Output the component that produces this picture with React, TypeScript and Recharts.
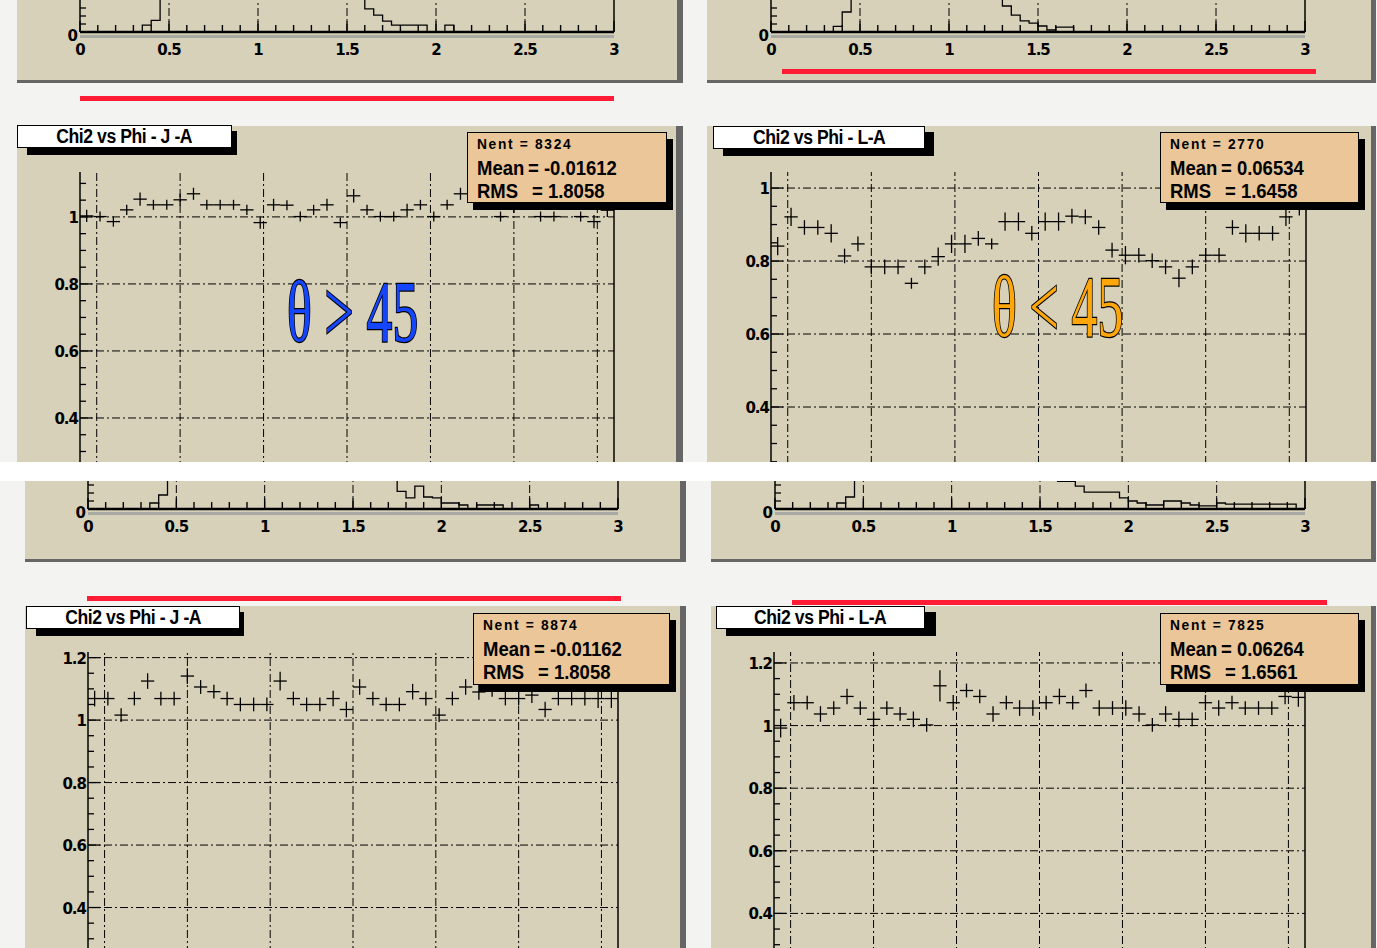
import React from "react";
import { ComposedChart, Line, Scatter, ErrorBar, XAxis, YAxis, ReferenceLine } from "recharts";

// ---------- DATA ----------
const phiCenters = [-3.12, -2.96, -2.8, -2.64, -2.48, -2.32, -2.16, -2.0, -1.84, -1.68, -1.52, -1.36, -1.2, -1.04, -0.88, -0.72, -0.56, -0.4, -0.24, -0.08, 0.08, 0.24, 0.4, 0.56, 0.72, 0.88, 1.04, 1.2, 1.36, 1.52, 1.68, 1.84, 2.0, 2.16, 2.32, 2.48, 2.64, 2.8, 2.96, 3.12];
const phiHalfWidth = 0.08;
const phiGrid = [-3, -2, -1, 0, 1, 2, 3];

const profMajorY = [0.4, 0.6, 0.8, 1.0, 1.2];
const profMajorLabels = ["0.4", "0.6", "0.8", "1", "1.2"];
const profMinorY = [0.25, 0.3, 0.35, 0.4, 0.45, 0.5, 0.55, 0.6, 0.65, 0.7, 0.75, 0.8, 0.85, 0.9, 0.95, 1.0, 1.05, 1.1, 1.15, 1.2];

const profTLValues = [1.003, 1.001, 0.986, 1.021, 1.053, 1.036, 1.036, 1.051, 1.069, 1.036, 1.036, 1.036, 1.021, 0.983, 1.036, 1.035, 1.001, 1.021, 1.036, 0.983, 1.063, 1.021, 1.001, 1.001, 1.021, 1.036, 1.001, 1.036, 1.069, 1.05, 1.04, 1.001, 1.03, 1.04, 1.001, 1.001, 1.04, 1.001, 0.986, 1.02];
const profTLErrors = [0.018, 0.015, 0.015, 0.015, 0.02, 0.015, 0.015, 0.018, 0.018, 0.015, 0.015, 0.015, 0.015, 0.018, 0.018, 0.015, 0.015, 0.015, 0.018, 0.015, 0.02, 0.015, 0.015, 0.015, 0.018, 0.015, 0.015, 0.015, 0.018, 0.018, 0.018, 0.015, 0.018, 0.018, 0.015, 0.015, 0.018, 0.015, 0.02, 0.02];

const profTRValues = [0.841, 0.921, 0.892, 0.892, 0.876, 0.814, 0.847, 0.784, 0.784, 0.784, 0.739, 0.784, 0.812, 0.847, 0.847, 0.862, 0.847, 0.908, 0.908, 0.876, 0.908, 0.908, 0.923, 0.921, 0.892, 0.83, 0.816, 0.816, 0.801, 0.784, 0.753, 0.784, 0.816, 0.816, 0.892, 0.876, 0.876, 0.876, 0.921, 0.95];
const profTRErrors = [0.025, 0.025, 0.02, 0.02, 0.025, 0.02, 0.02, 0.02, 0.02, 0.02, 0.015, 0.02, 0.025, 0.025, 0.025, 0.02, 0.015, 0.025, 0.025, 0.02, 0.025, 0.025, 0.02, 0.02, 0.02, 0.02, 0.025, 0.02, 0.02, 0.02, 0.025, 0.02, 0.02, 0.02, 0.02, 0.025, 0.02, 0.02, 0.025, 0.025];

const profBLValues = [1.069, 1.069, 1.016, 1.069, 1.125, 1.069, 1.069, 1.141, 1.106, 1.091, 1.069, 1.05, 1.05, 1.05, 1.125, 1.069, 1.05, 1.05, 1.069, 1.034, 1.106, 1.069, 1.05, 1.05, 1.091, 1.069, 1.016, 1.069, 1.106, 1.09, 1.1, 1.069, 1.069, 1.08, 1.034, 1.069, 1.069, 1.069, 1.069, 1.069];
const profBLErrors = [0.025, 0.022, 0.022, 0.022, 0.025, 0.022, 0.022, 0.025, 0.022, 0.022, 0.022, 0.022, 0.022, 0.022, 0.03, 0.022, 0.022, 0.022, 0.025, 0.025, 0.025, 0.022, 0.022, 0.022, 0.025, 0.022, 0.022, 0.022, 0.025, 0.025, 0.025, 0.022, 0.022, 0.025, 0.025, 0.022, 0.022, 0.022, 0.03, 0.03];

const profBRValues = [0.992, 1.073, 1.073, 1.037, 1.056, 1.093, 1.056, 1.02, 1.056, 1.037, 1.02, 1.002, 1.127, 1.073, 1.112, 1.093, 1.037, 1.073, 1.056, 1.056, 1.073, 1.093, 1.073, 1.112, 1.056, 1.056, 1.056, 1.037, 1.002, 1.037, 1.02, 1.02, 1.073, 1.056, 1.073, 1.056, 1.056, 1.056, 1.093, 1.09];
const profBRErrors = [0.03, 0.025, 0.022, 0.025, 0.022, 0.025, 0.022, 0.025, 0.022, 0.022, 0.025, 0.022, 0.05, 0.025, 0.022, 0.022, 0.025, 0.022, 0.025, 0.025, 0.022, 0.025, 0.022, 0.022, 0.025, 0.022, 0.025, 0.025, 0.022, 0.025, 0.025, 0.022, 0.025, 0.025, 0.022, 0.022, 0.022, 0.022, 0.025, 0.03];

const histEdges = [0, 0.05, 0.1, 0.15, 0.2, 0.25, 0.3, 0.35, 0.4, 0.45, 0.5, 0.55, 0.6, 0.65, 0.7, 0.75, 0.8, 0.85, 0.9, 0.95, 1.0, 1.05, 1.1, 1.15, 1.2, 1.25, 1.3, 1.35, 1.4, 1.45, 1.5, 1.55, 1.6, 1.65, 1.7, 1.75, 1.8, 1.85, 1.9, 1.95, 2.0, 2.05, 2.1, 2.15, 2.2, 2.25, 2.3, 2.35, 2.4, 2.45, 2.5, 2.55, 2.6, 2.65, 2.7, 2.75, 2.8, 2.85, 2.9, 2.95];
const histEnd = 3;
const histTL = [0, 0, 0, 0, 0, 0, 0, 17, 29, 120, 260, 410, 560, 690, 780, 840, 870, 860, 820, 760, 690, 610, 530, 450, 380, 310, 250, 200, 160, 130, 105, 90, 58, 42, 27, 17, 17, 17, 17, 0, 0, 17, 0, 0, 0, 0, 0, 0, 0, 0, 0, 0, 0, 0, 0, 0, 0, 0, 0, 0];
const histTR = [0, 0, 0, 0, 0, 0, 0, 14, 50, 140, 300, 470, 620, 740, 820, 860, 850, 800, 720, 620, 510, 400, 300, 220, 150, 100, 65, 42, 28, 22, 15, 5, 12, 12, 0, 0, 0, 0, 0, 0, 0, 0, 0, 0, 0, 0, 0, 0, 0, 0, 0, 0, 0, 0, 0, 0, 0, 0, 0, 0];
const histBL = [0, 0, 0, 0, 0, 0, 0, 15, 35, 110, 250, 400, 550, 680, 780, 850, 880, 880, 850, 800, 730, 650, 570, 490, 410, 340, 280, 220, 170, 130, 100, 90, 85, 80, 90, 44, 28, 57, 30, 28, 15, 15, 10, 0, 10, 10, 10, 0, 0, 0, 10, 0, 0, 0, 0, 0, 0, 0, 0, 0];
const histBR = [0, 0, 0, 0, 0, 0, 0, 15, 30, 100, 230, 380, 520, 650, 750, 820, 860, 870, 850, 800, 730, 650, 560, 470, 380, 300, 230, 170, 130, 100, 85, 78, 69, 69, 57, 42, 42, 42, 42, 28, 20, 15, 10, 10, 20, 20, 15, 10, 8, 8, 15, 12, 12, 12, 12, 12, 12, 12, 12, 0];

const stripMajorTicks = [0, 0.5, 1, 1.5, 2, 2.5, 3];
const stripTickLabels = ["0", "0.5", "1", "1.5", "2", "2.5", "3"];
const stripMinorTicks = [0, 0.1, 0.2, 0.3, 0.4, 0.5, 0.6, 0.7, 0.8, 0.9, 1.0, 1.1, 1.2, 1.3, 1.4, 1.5, 1.6, 1.7, 1.8, 1.9, 2.0, 2.1, 2.2, 2.3, 2.4, 2.5, 2.6, 2.7, 2.8, 2.9, 3.0];
const stripGridX = [0.5, 1, 1.5, 2, 2.5];
const stripYTicks = [0, 20, 40, 60];

const titleLeft = "Chi2 vs Phi - J -A";
const titleRight = "Chi2 vs Phi - L-A";
const statsTL = ["Nent = 8324", "Mean", "= -0.01612", "RMS", "=  1.8058"];
const statsTR = ["Nent = 2770", "Mean", "= 0.06534", "RMS", "= 1.6458"];
const statsBL = ["Nent = 8874", "Mean", "= -0.01162", "RMS", "=  1.8058"];
const statsBR = ["Nent = 7825", "Mean", "= 0.06264", "RMS", "= 1.6561"];

// ---------- STYLE ----------
const TAN = "#d8d1b9";
const SHADOW = "#666666";
const PAGE = "#f3f4f2";
const STATS = "#eac699";
const RED = "#ff1c34";
const LABEL_FONT = "'DejaVu Sans', sans-serif";
const DASH = "8 3 2 3";

const isMajor = (list: number[], v: number) => list.findIndex((m) => Math.abs(m - v) < 1e-6);

function StripXTick(props: any) {
  const { x, y, payload } = props;
  const idx = isMajor(stripMajorTicks, payload.value);
  return (
    <g>
      <line x1={x} x2={x} y1={y} y2={y - (idx >= 0 ? 11 : 7)} stroke="#000" strokeWidth={1.4} />
      {idx >= 0 && (
        <text x={x} y={y + 23} textAnchor="middle" fontFamily={LABEL_FONT} fontWeight={700} fontSize={15} fill="#000" letterSpacing={-1}>
          {stripTickLabels[idx]}
        </text>
      )}
    </g>
  );
}

function StripYTick(props: any) {
  const { x, y, payload } = props;
  if (payload.value === 0) {
    return (
      <text x={x - 2} y={y + 9} textAnchor="end" fontFamily={LABEL_FONT} fontWeight={700} fontSize={15} fill="#000">
        0
      </text>
    );
  }
  return <line x1={x} x2={x + 6} y1={y} y2={y} stroke="#000" strokeWidth={1.3} />;
}

function ProfYTick(props: any) {
  const { x, y, payload } = props;
  const idx = isMajor(profMajorY, payload.value);
  return (
    <g>
      <line x1={x} x2={x + (idx >= 0 ? 12 : 6)} y1={y} y2={y} stroke="#000" strokeWidth={1.3} />
      {idx >= 0 && (
        <text x={x - 2} y={y + 6} textAnchor="end" fontFamily={LABEL_FONT} fontWeight={700} fontSize={15} fill="#000" letterSpacing={-1}>
          {profMajorLabels[idx]}
        </text>
      )}
    </g>
  );
}

function Pad({ x, y, w, h, sr, sb, children }: any) {
  return (
    <div style={{ position: "absolute", left: x, top: y, width: w + sr, height: h + sb, background: SHADOW }}>
      <div style={{ position: "absolute", left: 0, top: 0, width: w, height: h, background: TAN, overflow: "hidden" }}>
        {children}
      </div>
    </div>
  );
}

function HistStrip({ padX, padY, plotLeft, plotRight, plotTop, axisY, yMax, counts }: any) {
  const YW = 30, RW = 8, XH = 32;
  const plotW = plotRight - plotLeft;
  const plotH = axisY - plotTop;
  const data = histEdges.map((e, i) => ({ x: e, c: counts[i] }));
  data.push({ x: histEnd, c: counts[counts.length - 1] });
  return (
    <div style={{ position: "absolute", left: plotLeft - YW - padX, top: plotTop - padY }}>
      <ComposedChart width={YW + plotW + RW} height={plotH + XH} data={data} margin={{ top: 0, right: 0, bottom: 0, left: 0 }}>
        <XAxis xAxisId="b" dataKey="x" type="number" domain={[0, 3]} allowDataOverflow ticks={stripMinorTicks} interval={0}
          height={XH} tickSize={0} tickMargin={0} tickLine={false} axisLine={{ stroke: "#000", strokeWidth: 2.5 }}
          tick={(p: any) => <StripXTick {...p} />} />
        <YAxis yAxisId="l" type="number" domain={[0, yMax]} allowDataOverflow ticks={stripYTicks} interval={0} width={YW}
          tickSize={0} tickMargin={0} tickLine={false} axisLine={{ stroke: "#000", strokeWidth: 1.5 }}
          tick={(p: any) => <StripYTick {...p} />} />
        <YAxis yAxisId="r" orientation="right" type="number" domain={[0, yMax]} allowDataOverflow width={RW}
          tick={false} tickLine={false} axisLine={{ stroke: "#000", strokeWidth: 1.5 }} />
        {stripGridX.map((v) => (
          <ReferenceLine key={v} xAxisId="b" yAxisId="l" x={v} stroke="#000" strokeWidth={1} strokeDasharray={DASH} />
        ))}
        <Line xAxisId="b" yAxisId="l" dataKey="c" type="stepAfter" stroke="#000" strokeWidth={1.3} dot={false} isAnimationActive={false} />
      </ComposedChart>
      <div style={{ position: "absolute", left: YW, top: plotH + 3, width: plotW, height: 3, background: "#a9a9a4" }} />
    </div>
  );
}

function ProfileChart({ padX, padY, plotLeft, plotRight, plotTop, yTop, yBottom, pxPerUnit, values, errors }: any) {
  const YW = 50, RW = 4, XH = 20, MT = 14;
  const plotW = plotRight - plotLeft;
  const plotH = Math.round((yTop - yBottom) * pxPerUnit);
  const data = phiCenters.map((x, i) => ({ x, y: values[i], ex: phiHalfWidth, ey: errors[i] }));
  const yTicks = profMinorY.filter((v) => v >= yBottom - 1e-9 && v <= yTop + 1e-9);
  const gridY = profMajorY.filter((v) => v > yBottom + 1e-9 && v < yTop - 1e-9);
  return (
    <div style={{ position: "absolute", left: plotLeft - YW - padX, top: plotTop - MT - padY }}>
      <ComposedChart width={YW + plotW + RW} height={MT + plotH + XH} data={data} margin={{ top: MT, right: 0, bottom: 0, left: 0 }}>
        <XAxis xAxisId="b" dataKey="x" type="number" domain={[-3.2, 3.2]} allowDataOverflow ticks={phiGrid} height={XH}
          tick={false} tickLine={false} axisLine={{ stroke: "#000", strokeWidth: 1.5 }} />
        <XAxis xAxisId="t" orientation="top" type="number" domain={[-3.2, 3.2]} allowDataOverflow height={0}
          tick={false} tickLine={false} axisLine={{ stroke: "#000", strokeWidth: 1.5 }} />
        <YAxis yAxisId="l" dataKey="y" type="number" domain={[yBottom, yTop]} allowDataOverflow ticks={yTicks} interval={0}
          width={YW} tickSize={0} tickMargin={0} tickLine={false} axisLine={{ stroke: "#000", strokeWidth: 1.5 }}
          tick={(p: any) => <ProfYTick {...p} />} />
        <YAxis yAxisId="r" orientation="right" type="number" domain={[yBottom, yTop]} allowDataOverflow width={RW}
          tick={false} tickLine={false} axisLine={{ stroke: "#000", strokeWidth: 1.5 }} />
        {phiGrid.map((v) => (
          <ReferenceLine key={"x" + v} xAxisId="b" yAxisId="l" x={v} stroke="#000" strokeWidth={1} strokeDasharray={DASH} />
        ))}
        {gridY.map((v) => (
          <ReferenceLine key={"y" + v} xAxisId="b" yAxisId="l" y={v} stroke="#000" strokeWidth={1} strokeDasharray={DASH} />
        ))}
        <Scatter xAxisId="b" yAxisId="l" dataKey="y" shape={() => <g />} isAnimationActive={false}>
          <ErrorBar dataKey="ex" direction="x" width={0} stroke="#000" strokeWidth={1.3} isAnimationActive={false} />
          <ErrorBar dataKey="ey" direction="y" width={0} stroke="#000" strokeWidth={1.3} isAnimationActive={false} />
        </Scatter>
      </ComposedChart>
    </div>
  );
}

function TitleBox({ x, y, w, h, sx, sy, sw, sh, text }: any) {
  return (
    <>
      <div style={{ position: "absolute", left: sx, top: sy, width: sw, height: sh, background: "#000" }} />
      <div style={{ position: "absolute", left: x, top: y, width: w, height: h, background: "#fff", border: "1px solid #000", boxSizing: "border-box",
        display: "flex", alignItems: "center", justifyContent: "center", overflow: "hidden" }}>
        <span style={{ fontFamily: "'Liberation Sans', sans-serif", fontWeight: 700, fontSize: 20, lineHeight: "21px", color: "#000", transform: "scaleX(0.88)", whiteSpace: "nowrap", letterSpacing: -0.5 }}>
          {text}
        </span>
      </div>
    </>
  );
}

function StatsBox({ x, y, w, h, lines }: any) {
  const big: any = { position: "absolute", fontFamily: "'Liberation Sans', sans-serif", fontWeight: 700, fontSize: 21, color: "#000",
    whiteSpace: "nowrap", transform: "scaleX(0.88)", transformOrigin: "left center", lineHeight: "22px" };
  return (
    <>
      <div style={{ position: "absolute", left: x + 6, top: y + 7, width: w, height: h, background: "#000" }} />
      <div style={{ position: "absolute", left: x, top: y, width: w, height: h, background: STATS, border: "1px solid #000", boxSizing: "border-box" }}>
        <div style={{ ...big, left: 9, top: 2, fontSize: 15, lineHeight: "18px", transform: "scaleX(0.92)", letterSpacing: 1.8 }}>{lines[0]}</div>
        <div style={{ ...big, left: 9, top: 24 }}>{lines[1]}</div>
        <div style={{ ...big, left: 60, top: 24 }}>{lines[2]}</div>
        <div style={{ ...big, left: 9, top: 47 }}>{lines[3]}</div>
        <div style={{ ...big, left: 64, top: 47 }}>{lines[4]}</div>
      </div>
    </>
  );
}

function ThetaLabel({ x, y, text, color }: any) {
  return (
    <svg style={{ position: "absolute", left: x, top: y - 20 }} width={300} height={110}>
      <text x={0} y={90} transform="scale(0.6,1)" fontFamily="'Liberation Serif', serif" fontSize={86} fill={color}
        stroke="#000" strokeWidth={2.4} paintOrder="stroke">
        {text}
      </text>
    </svg>
  );
}

export default function App() {
  return (
    <div style={{ position: "fixed", left: 0, top: 0, width: 1377, height: 948, background: PAGE, overflow: "hidden" }}>
      {/* top row strips */}
      <Pad x={17} y={0} w={660} h={80} sr={6} sb={3}>
        <HistStrip padX={17} padY={0} plotLeft={80} plotRight={614} plotTop={0} axisY={32} yMax={80} counts={histTL} />
      </Pad>
      <Pad x={707} y={0} w={664} h={80} sr={5} sb={3}>
        <HistStrip padX={707} padY={0} plotLeft={771} plotRight={1305} plotTop={0} axisY={32} yMax={80} counts={histTR} />
      </Pad>
      <div style={{ position: "absolute", left: 80, top: 96, width: 534, height: 5, background: RED }} />
      <div style={{ position: "absolute", left: 782, top: 69, width: 534, height: 5, background: RED }} />

      {/* top row profiles */}
      <Pad x={17} y={126} w={659} h={336} sr={7} sb={0}>
        <ProfileChart padX={17} padY={126} plotLeft={80} plotRight={614} plotTop={172} yTop={1.134} yBottom={0.2} pxPerUnit={335}
          values={profTLValues} errors={profTLErrors} />
      </Pad>
      <Pad x={707} y={126} w={664} h={336} sr={5} sb={0}>
        <ProfileChart padX={707} padY={126} plotLeft={771} plotRight={1306} plotTop={172} yTop={1.044} yBottom={0.2} pxPerUnit={365}
          values={profTRValues} errors={profTRErrors} />
      </Pad>
      <TitleBox x={17} y={125} w={215} h={23} sx={27} sy={131} sw={210} sh={24} text={titleLeft} />
      <TitleBox x={713} y={126} w={212} h={23} sx={723} sy={132} sw={211} sh={24} text={titleRight} />
      <StatsBox x={467} y={132} w={200} h={71} lines={statsTL} />
      <StatsBox x={1160} y={132} w={199} h={71} lines={statsTR} />
      <ThetaLabel x={287} y={271} text="θ > 45" color="#1446ff" />
      <ThetaLabel x={992} y={266} text="θ < 45" color="#ffa60a" />

      {/* white band */}
      <div style={{ position: "absolute", left: 0, top: 462, width: 1377, height: 19, background: "#ffffff" }} />

      {/* bottom row strips */}
      <Pad x={25} y={481} w={655} h={78} sr={6} sb={3}>
        <HistStrip padX={25} padY={481} plotLeft={88} plotRight={618} plotTop={481} axisY={509} yMax={70} counts={histBL} />
      </Pad>
      <Pad x={711} y={481} w={660} h={78} sr={5} sb={3}>
        <HistStrip padX={711} padY={481} plotLeft={775} plotRight={1305} plotTop={481} axisY={509} yMax={70} counts={histBR} />
      </Pad>
      <div style={{ position: "absolute", left: 87, top: 596, width: 534, height: 5, background: RED }} />
      <div style={{ position: "absolute", left: 792, top: 600, width: 535, height: 5, background: RED }} />

      {/* bottom row profiles */}
      <Pad x={25} y={606} w={655} h={360} sr={6} sb={0}>
        <ProfileChart padX={25} padY={606} plotLeft={88} plotRight={618} plotTop={652} yTop={1.218} yBottom={0.2} pxPerUnit={312.5}
          values={profBLValues} errors={profBLErrors} />
      </Pad>
      <Pad x={711} y={606} w={660} h={360} sr={5} sb={0}>
        <ProfileChart padX={711} padY={606} plotLeft={774} plotRight={1305} plotTop={652} yTop={1.235} yBottom={0.2} pxPerUnit={313}
          values={profBRValues} errors={profBRErrors} />
      </Pad>
      <TitleBox x={26} y={606} w={214} h={23} sx={36} sy={612} sw={208} sh={24} text={titleLeft} />
      <TitleBox x={716} y={606} w={209} h={23} sx={726} sy={612} sw={210} sh={24} text={titleRight} />
      <StatsBox x={473} y={613} w={197} h={72} lines={statsBL} />
      <StatsBox x={1160} y={613} w={199} h={72} lines={statsBR} />
    </div>
  );
}
